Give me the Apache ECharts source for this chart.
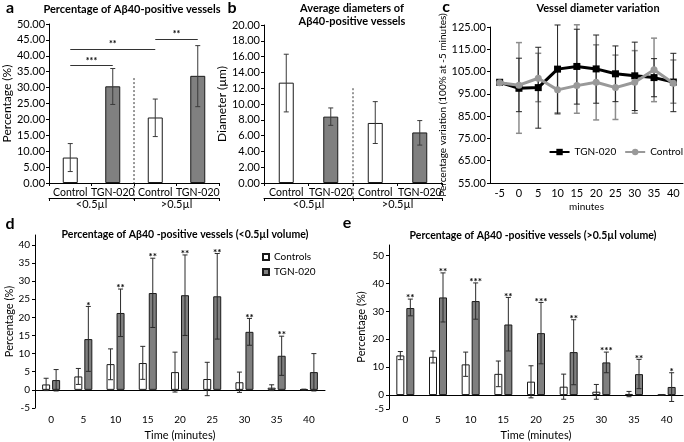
<!DOCTYPE html>
<html>
<head>
<meta charset="utf-8">
<script src="https://cdn.jsdelivr.net/npm/echarts@6/dist/echarts.min.js"></script>
<style>html,body{margin:0;padding:0;background:#fff}#chart{width:684px;height:442px}</style>
</head>
<body>
<div id="chart"></div>
<script>
// ---------- data ----------
const aCats = ['Control', 'TGN-020', 'Control', 'TGN-020'];
const groupCats = ['<0.5µl', '>0.5µl'];
const aMean = [8.0, 30.4, 20.6, 33.7];
const aLow = [3.6, 24.7, 14.6, 24.0];
const aHigh = [12.4, 36.0, 26.4, 43.2];
const aSigFrom = [0, 0, 2];
const aSigTo = [1, 2, 3];
const aSigAt = [37.0, 42.2, 45.3];
const aSigText = ['***', '**', '**'];

const bMean = [12.7, 8.4, 7.6, 6.4];
const bLow = [9.0, 7.3, 5.0, 4.8];
const bHigh = [16.3, 9.5, 10.3, 7.9];

const cMinutes = ['-5', '0', '5', '10', '15', '20', '25', '30', '35', '40'];
const cTgn = [100.2, 97.5, 97.8, 106.1, 107.3, 106.2, 104.0, 103.1, 102.3, 100.3];
const cTgnLow = [null, 87.0, 79.6, 86.0, 90.4, 90.8, 91.5, 87.5, 93.7, 87.0];
const cTgnHigh = [null, 111.0, 115.9, 125.9, 124.0, 121.4, 116.5, 118.2, 110.8, 113.2];
const cCtrl = [100.0, 98.9, 102.0, 96.8, 98.7, 100.2, 97.8, 100.2, 105.8, 99.8];
const cCtrlLow = [null, 77.3, 91.5, 86.5, 86.3, 83.3, 83.5, 86.3, 91.5, 90.8];
const cCtrlHigh = [null, 118.0, 113.2, 107.0, 126.0, 117.0, 112.4, 114.4, 120.0, 110.2];
const cTicks = [55, 65, 75, 85, 95, 105, 115, 125];

const timeCats = ['0', '5', '10', '15', '20', '25', '30', '35', '40'];
const dCtrl = [1.5, 3.7, 7.1, 7.4, 4.9, 3.0, 2.1, 0.6, 0.1];
const dCtrlLow = [-0.2, 1.5, 2.8, 2.9, -0.6, -1.6, -0.7, -0.2, 0.0];
const dCtrlHigh = [3.2, 5.9, 11.3, 12.0, 10.4, 7.6, 4.9, 1.4, 0.2];
const dTgn = [2.7, 14.0, 21.2, 26.7, 26.1, 25.8, 16.0, 9.4, 4.9];
const dTgnLow = [-0.3, 5.1, 14.7, 17.2, 15.0, 14.0, 12.3, 4.0, -0.3];
const dTgnHigh = [5.6, 23.0, 27.8, 36.3, 37.2, 37.6, 19.7, 14.8, 10.0];
const dStars = ['', '*', '**', '**', '**', '**', '**', '**', ''];
const dTicks = [-5, 0, 5, 10, 15, 20, 25, 30, 35, 40];

const eCtrl = [14.2, 13.7, 11.0, 7.6, 4.8, 3.0, 1.2, 0.4, 0.1];
const eCtrlLow = [12.7, 11.5, 6.7, 3.0, -1.0, -1.5, -1.5, -0.6, 0.0];
const eCtrlHigh = [15.6, 15.8, 15.4, 12.2, 10.5, 7.5, 3.8, 1.3, 0.2];
const eTgn = [31.2, 35.0, 33.7, 25.3, 22.2, 15.4, 11.7, 7.5, 2.9];
const eTgnLow = [28.4, 26.2, 27.2, 15.8, 11.2, 3.7, 8.0, 2.3, -2.3];
const eTgnHigh = [34.4, 43.8, 40.2, 35.0, 33.2, 27.0, 15.4, 12.8, 8.0];
const eStars = ['**', '**', '***', '**', '***', '**', '***', '**', '*'];
const eTicks = [-5, 0, 10, 20, 30, 40, 50];

// ---------- helpers ----------
const FONT = 'Lato';
const WHITE = '#ffffff', GREY = '#808080', DARK = '#1a1a1a';

function errData(low, high) {
  const out = [];
  low.forEach((l, i) => { if (l != null) out.push([i, l, high[i]]); });
  return out;
}
function errRender(offset, cap, color, width, stars) {
  return function (params, api) {
    const i = api.value(0), lo = api.value(1), hi = api.value(2);
    const pl = api.coord([i, lo]), ph = api.coord([i, hi]);
    const x = pl[0] + offset;
    const st = { stroke: color, lineWidth: width };
    const ch = [
      { type: 'line', shape: { x1: x, y1: pl[1], x2: x, y2: ph[1] }, style: st },
      { type: 'line', shape: { x1: x - cap, y1: ph[1], x2: x + cap, y2: ph[1] }, style: st },
      { type: 'line', shape: { x1: x - cap, y1: pl[1], x2: x + cap, y2: pl[1] }, style: st }
    ];
    const s = stars ? stars[i] : '';
    if (s) ch.push({ type: 'text', style: { text: s, x: x, y: ph[1] + 4, align: 'center', verticalAlign: 'bottom', textAlign: 'center', textVerticalAlign: 'bottom', font: 'bold 10px ' + FONT, fill: '#000' } });
    return { type: 'group', children: ch };
  };
}
function errSeries(xi, yi, data, render, z) {
  return { type: 'custom', xAxisIndex: xi, yAxisIndex: yi, data: data, renderItem: render, encode: { x: 0, y: [1, 2] }, z: z || 5, silent: true };
}
function catAxis(grid, data, extra) {
  return Object.assign({
    type: 'category', gridIndex: grid, data: data, boundaryGap: true,
    axisLine: { lineStyle: { color: '#000', width: 1 } },
    axisTick: { show: true, length: 3, lineStyle: { color: '#000' } },
    axisLabel: { color: '#000', fontFamily: FONT, fontSize: 11, margin: 4, interval: 0 },
    splitLine: { show: false }
  }, extra || {});
}
function valAxis(grid, extra) {
  return Object.assign({
    type: 'value', gridIndex: grid,
    axisLine: { show: true, lineStyle: { color: '#000', width: 1 } },
    axisTick: { show: true, length: 3, lineStyle: { color: '#000' } },
    axisLabel: { color: '#000', fontFamily: FONT, fontSize: 11, margin: 4 },
    splitLine: { show: false },
    nameLocation: 'middle',
    nameTextStyle: { color: '#000', fontFamily: FONT, fontSize: 12 }
  }, extra || {});
}
const fix2 = v => v.toFixed(2);
const pairBars = (vals) => vals.map((v, i) => ({ value: v, itemStyle: { color: i % 2 ? GREY : WHITE } }));
const groupLabel = { color: '#000', fontFamily: FONT, fontSize: 11, margin: 1, interval: 0 };
const pairLabel = { color: '#000', fontFamily: FONT, fontSize: 10.5, margin: 4, interval: 0 };

const chart = echarts.init(document.getElementById('chart'), null, { renderer: 'canvas' });

const option = {
  animation: false,
  backgroundColor: '#fff',
  textStyle: { fontFamily: FONT },
  grid: [
    { left: 43, top: 24, width: 176, height: 159 },
    { left: 264, top: 25, width: 178, height: 158 },
    { left: 490, top: 27, width: 193, height: 156 },
    { left: 35, top: 235, width: 290, height: 195 },
    { left: 389, top: 245, width: 294, height: 180 }
  ],
  xAxis: [
    catAxis(0, aCats, { axisLabel: pairLabel }),
    catAxis(0, groupCats, { position: 'bottom', offset: 15, axisLabel: groupLabel }),
    catAxis(1, aCats, { axisLabel: pairLabel }),
    catAxis(1, groupCats, { position: 'bottom', offset: 15, axisLabel: groupLabel }),
    catAxis(2, cMinutes, { axisTick: { show: false }, axisLabel: { color: '#000', fontFamily: FONT, fontSize: 11, margin: 5, interval: 0 },
      name: 'minutes', nameLocation: 'middle', nameGap: 19, nameTextStyle: { color: '#000', fontFamily: FONT, fontSize: 10 } }),
    catAxis(3, timeCats, { axisTick: { show: false }, axisLabel: { color: '#000', fontFamily: FONT, fontSize: 10, margin: 7, interval: 0 },
      name: 'Time (minutes)', nameLocation: 'middle', nameGap: 22, nameTextStyle: { color: '#000', fontFamily: FONT, fontSize: 11 } }),
    catAxis(4, timeCats, { axisTick: { show: false }, axisLabel: { color: '#000', fontFamily: FONT, fontSize: 10, margin: 6, interval: 0 },
      name: 'Time (minutes)', nameLocation: 'middle', nameGap: 21, nameTextStyle: { color: '#000', fontFamily: FONT, fontSize: 11 } })
  ],
  yAxis: [
    valAxis(0, { min: 0, max: 50, interval: 5, axisLabel: { color: '#000', fontFamily: FONT, fontSize: 11, margin: 4, formatter: fix2 }, name: 'Percentage (%)', nameGap: 30 }),
    valAxis(1, { min: 0, max: 20, interval: 2, axisLabel: { color: '#000', fontFamily: FONT, fontSize: 11, margin: 4, formatter: fix2 }, name: 'Diameter (µm)', nameGap: 30 }),
    valAxis(2, { min: 55, max: 125, axisTick: { show: true, length: 3, customValues: cTicks, lineStyle: { color: '#000' } },
      axisLabel: { color: '#000', fontFamily: FONT, fontSize: 11, margin: 4, formatter: fix2, customValues: cTicks },
      name: 'Percentage variation (100% at -5 minutes)', nameGap: 41, nameTextStyle: { color: '#000', fontFamily: FONT, fontSize: 10 } }),
    valAxis(3, { min: -5, max: 42.7, axisTick: { show: true, length: 3, customValues: dTicks, lineStyle: { color: '#000' } },
      axisLabel: { color: '#000', fontFamily: FONT, fontSize: 10, margin: 5, customValues: dTicks },
      name: 'Percentage (%)', nameGap: 20, nameTextStyle: { color: '#000', fontFamily: FONT, fontSize: 11 } }),
    valAxis(4, { min: -5, max: 53.8, axisTick: { show: true, length: 3, customValues: eTicks, lineStyle: { color: '#000' } },
      axisLabel: { color: '#000', fontFamily: FONT, fontSize: 10, margin: 5, customValues: eTicks },
      name: 'Percentage (%)', nameGap: 22, nameTextStyle: { color: '#000', fontFamily: FONT, fontSize: 11 } })
  ],
  legend: [
    { data: ['TGN-020', 'Control'], right: 1, top: 147, itemWidth: 20, itemHeight: 8, itemGap: 8, padding: 0,
      textStyle: { color: '#000', fontFamily: FONT, fontSize: 10 }, selectedMode: false },
    { data: ['Controls', 'TGN-020 (d)'], left: 257, top: 247, orient: 'vertical', itemWidth: 6, itemHeight: 6, itemGap: 5,
      icon: 'rect', formatter: n => n.replace(' (d)', ''), textStyle: { color: '#000', fontFamily: FONT, fontSize: 10 }, selectedMode: false }
  ],
  series: [
    // panel a
    { type: 'bar', name: 'a', xAxisIndex: 0, yAxisIndex: 0, data: pairBars(aMean), barWidth: 15,
      itemStyle: { borderColor: DARK, borderWidth: 1 },
      markLine: { symbol: 'none', silent: true, animation: false,
        lineStyle: { color: '#333', width: 1, type: 'solid' },
        label: { show: true, position: 'insideMiddleTop', distance: 0, formatter: p => p.name, color: '#000', fontSize: 9, fontWeight: 'bold', fontFamily: FONT },
        data: aSigFrom.map((f, k) => [{ coord: [f, aSigAt[k]], name: aSigText[k] }, { coord: [aSigTo[k], aSigAt[k]] }]) } },
    errSeries(0, 0, errData(aLow, aHigh), errRender(0, 2.5, '#3a3a3a', 1)),
    // panel b
    { type: 'bar', name: 'b', xAxisIndex: 2, yAxisIndex: 1, data: pairBars(bMean), barWidth: 15,
      itemStyle: { borderColor: DARK, borderWidth: 1 } },
    errSeries(2, 1, errData(bLow, bHigh), errRender(0, 2.5, '#3a3a3a', 1)),
    // panel c
    errSeries(4, 2, errData(cCtrlLow, cCtrlHigh), errRender(0, 3, '#8c8c8c', 1.5), 1),
    errSeries(4, 2, errData(cTgnLow, cTgnHigh), errRender(0, 3, '#222', 1), 1),
    { type: 'line', name: 'TGN-020', xAxisIndex: 4, yAxisIndex: 2, data: cTgn, color: '#000',
      lineStyle: { width: 3, color: '#000' }, symbol: 'rect', symbolSize: 7, itemStyle: { color: '#000' }, z: 3 },
    { type: 'line', name: 'Control', xAxisIndex: 4, yAxisIndex: 2, data: cCtrl, color: '#999',
      lineStyle: { width: 3, color: '#999' }, symbol: 'circle', symbolSize: 7, itemStyle: { color: '#999' }, z: 4 },
    // panel d
    { type: 'bar', name: 'Controls', xAxisIndex: 5, yAxisIndex: 3, data: dCtrl, barWidth: 8, barGap: '25%',
      itemStyle: { color: WHITE, borderColor: DARK, borderWidth: 1 } },
    { type: 'bar', name: 'TGN-020 (d)', xAxisIndex: 5, yAxisIndex: 3, data: dTgn, barWidth: 8, barGap: '25%',
      itemStyle: { color: '#7f7f7f', borderColor: DARK, borderWidth: 1 } },
    errSeries(5, 3, errData(dCtrlLow, dCtrlHigh), errRender(-5, 2.5, '#2a2a2a', 1)),
    errSeries(5, 3, errData(dTgnLow, dTgnHigh), errRender(5, 2.5, '#2a2a2a', 1, dStars)),
    // panel e
    { type: 'bar', name: 'Controls (e)', xAxisIndex: 6, yAxisIndex: 4, data: eCtrl, barWidth: 8, barGap: '25%',
      itemStyle: { color: WHITE, borderColor: DARK, borderWidth: 1 } },
    { type: 'bar', name: 'TGN-020 (e)', xAxisIndex: 6, yAxisIndex: 4, data: eTgn, barWidth: 8, barGap: '25%',
      itemStyle: { color: '#7f7f7f', borderColor: DARK, borderWidth: 1 } },
    errSeries(6, 4, errData(eCtrlLow, eCtrlHigh), errRender(-5, 2.5, '#2a2a2a', 1)),
    errSeries(6, 4, errData(eTgnLow, eTgnHigh), errRender(5, 2.5, '#2a2a2a', 1, eStars))
  ]
};
chart.setOption(option);

// ---------- titles, panel letters and group separators ----------
function txt(t, x, y, size, bold, align) {
  return { type: 'text', x: x, y: y, silent: true,
    style: { text: t, fill: '#000', font: (bold ? 'bold ' : '') + size + 'px ' + FONT, align: align || 'center', verticalAlign: 'middle', textAlign: align || 'center', textVerticalAlign: 'middle' } };
}
function separator(xAxisIndex, yAxisIndex, topValue) {
  const x1 = chart.convertToPixel({ xAxisIndex: xAxisIndex }, 1);
  const x2 = chart.convertToPixel({ xAxisIndex: xAxisIndex }, 2);
  const xm = (x1 + x2) / 2;
  const yTop = chart.convertToPixel({ yAxisIndex: yAxisIndex }, topValue);
  const yBase = chart.convertToPixel({ yAxisIndex: yAxisIndex }, 0);
  return { type: 'line', silent: true, shape: { x1: xm, y1: yTop, x2: xm, y2: yBase + 17 },
    style: { stroke: '#333', lineWidth: 1, lineDash: [2, 2] } };
}
chart.setOption({
  graphic: [
    txt('a', 10, 8, 16, true),
    txt('Percentage of Aβ40-positive vessels', 132, 9, 11, true),
    txt('b', 232, 8, 16, true),
    txt('Average diameters of', 352, 8, 11, true),
    txt('Aβ40-positive vessels', 352, 21, 11, true),
    txt('c', 446, 7, 16, true),
    txt('Vessel diameter variation', 598, 8, 11, true),
    txt('d', 10, 224, 16, true),
    txt('Percentage of Aβ40 -positive vessels (<0.5µl volume)', 185, 235, 10.5, true),
    txt('e', 347, 223, 16, true),
    txt('Percentage of Aβ40 -positive vessels (>0.5µl volume)', 533, 236, 10.5, true),
    separator(0, 0, 33),
    separator(2, 1, 12)
  ]
});
</script>
</body>
</html>
